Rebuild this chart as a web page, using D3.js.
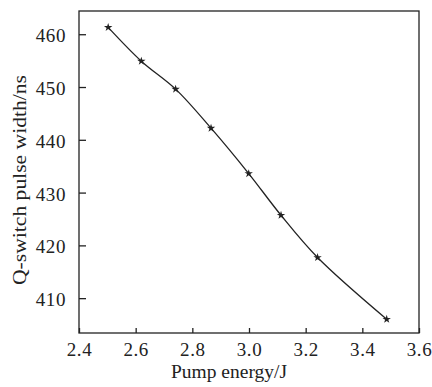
<!DOCTYPE html>
<html><head><meta charset="utf-8">
<script src="https://cdn.jsdelivr.net/npm/d3@7"></script>
<style>body{margin:0;background:#fff}svg{display:block}</style>
</head><body>
<script>
const energy = [2.503, 2.62, 2.741, 2.866, 2.999, 3.113, 3.242, 3.486];
const width_ns = [461.3, 454.9, 449.6, 442.2, 433.6, 425.7, 417.7, 406.0];
const xTicks = [2.4, 2.6, 2.8, 3.0, 3.2, 3.4, 3.6];
const yTicks = [410, 420, 430, 440, 450, 460];
const xLabel = "Pump energy/J";
const yLabel = "Q-switch pulse width/ns";

const W = 432, H = 387;
const m = {left: 79, right: 13, top: 11, bottom: 54};
const svg = d3.select("body").append("svg").attr("width", W).attr("height", H);
const x = d3.scaleLinear().domain([2.4, 3.6]).range([m.left, W - m.right]);
const y = d3.scaleLinear().domain([403.4, 464.4]).range([H - m.bottom, m.top]);
const font = "'Liberation Serif', 'Times New Roman', serif";
const col = "#222";

svg.append("rect").attr("x", m.left).attr("y", m.top)
  .attr("width", W - m.right - m.left).attr("height", H - m.bottom - m.top)
  .attr("fill", "none").attr("stroke", col).attr("stroke-width", 1.3);

const xa = svg.append("g").attr("transform", `translate(0,${H - m.bottom})`)
  .call(d3.axisBottom(x).tickValues(xTicks).tickFormat(d3.format(".1f")).tickSizeInner(-5).tickSizeOuter(0).tickPadding(10));
const ya = svg.append("g").attr("transform", `translate(${m.left},0)`)
  .call(d3.axisLeft(y).tickValues(yTicks).tickFormat(d3.format("d")).tickSizeInner(-7).tickSizeOuter(0).tickPadding(13));
[xa, ya].forEach(g => {
  g.select(".domain").remove();
  g.selectAll("line").attr("stroke", col).attr("stroke-width", 1.3);
  g.selectAll("text").attr("font-family", font).attr("font-size", 19).attr("fill", col)
    .attr("letter-spacing", "0.6px");
});
ya.selectAll("text").attr("dy", "0.4em");
xa.selectAll("text").attr("dy", "0.71em");

svg.append("text").attr("x", 229).attr("y", 378)
  .attr("text-anchor", "middle").attr("font-family", font).attr("font-size", 19).attr("fill", col)
  .attr("textLength", 116).attr("lengthAdjust", "spacingAndGlyphs").text(xLabel);
svg.append("text").attr("transform", `translate(26,180) rotate(-90)`)
  .attr("text-anchor", "middle").attr("font-family", font).attr("font-size", 19).attr("fill", col)
  .attr("textLength", 210).attr("lengthAdjust", "spacingAndGlyphs").text(yLabel);

const pts = energy.map((e, i) => [e, width_ns[i]]);
svg.append("path").datum(pts)
  .attr("d", d3.line().x(d => x(d[0])).y(d => y(d[1])).curve(d3.curveCatmullRom))
  .attr("fill", "none").attr("stroke", col).attr("stroke-width", 1.3);
svg.selectAll(".pt").data(pts).enter().append("path")
  .attr("transform", d => `translate(${x(d[0])},${y(d[1])})`)
  .attr("d", d3.symbol().type(d3.symbolStar).size(22))
  .attr("fill", col);
</script>
</body></html>
